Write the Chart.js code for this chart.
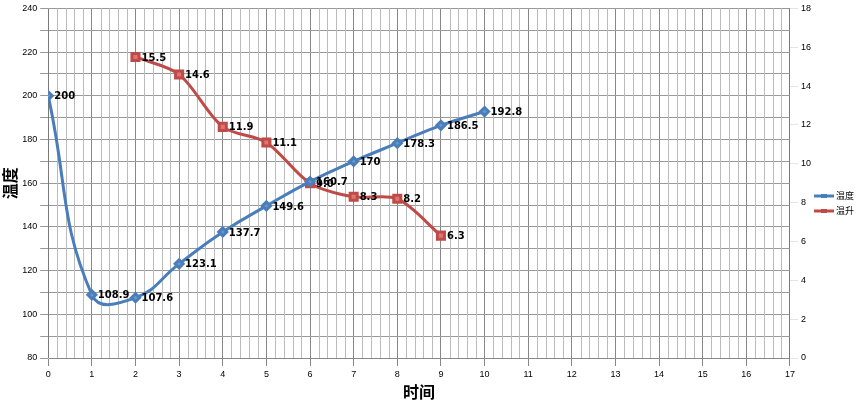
<!DOCTYPE html><html><head><meta charset="utf-8"><script src="https://cdn.jsdelivr.net/npm/chart.js@4"></script>
<style>body{margin:0;background:#fff}#w{width:858px;height:402px}</style></head><body><div id="w"><canvas id="c"></canvas></div>
<script>
const tempX=[0,1,2,3,4,5,6,7,8,9,10];
const tempY=[200,108.9,107.6,123.1,137.7,149.6,160.7,170,178.3,186.5,192.8];
const riseX=[2,3,4,5,6,7,8,9];
const riseY=[15.5,14.6,11.9,11.1,9,8.3,8.2,6.3];
const riseLabels=['15.5','14.6','11.9','11.1','9.0','8.3','8.2','6.3'];
const names=['温度','温升'];
const lbl={id:'lbl',afterDatasetsDraw(ch){const c=ch.ctx;c.save();c.font='bold 10px "DejaVu Sans"';c.fillStyle='#000';c.textBaseline='middle';
ch.data.datasets.forEach((d,i)=>{ch.getDatasetMeta(i).data.forEach((p,j)=>{const t=i===0?String(tempY[j]):riseLabels[j];c.fillText(t,p.x+6,p.y+1);});});
const cols=['#4a7ebb','#be4b48'];c.font='9px "Noto Sans CJK SC"';
names.forEach((n,i)=>{const y=196+i*15;c.strokeStyle=cols[i];c.lineWidth=3;c.beginPath();c.moveTo(814,y);c.lineTo(834,y);c.stroke();c.fillStyle=cols[i];c.fillRect(821,y-2,6,4);c.fillStyle='#000';c.fillText(n,836,y);});
c.restore();}};
new Chart(document.getElementById('c'),{type:'scatter',data:{datasets:[
{label:names[0],data:tempX.map((x,i)=>({x,y:tempY[i]})),showLine:true,tension:0.45,borderColor:'#4a7ebb',backgroundColor:'#6d95cc',borderWidth:3,pointStyle:'rectRot',pointRadius:4,yAxisID:'y'},
{label:names[1],data:riseX.map((x,i)=>({x,y:riseY[i]})),showLine:true,tension:0.3,borderColor:'#be4b48',backgroundColor:'#e07470',pointBorderColor:'#be4b48',borderWidth:3,pointStyle:'rect',pointRadius:5,yAxisID:'y1'}]},
options:{responsive:true,maintainAspectRatio:false,animation:false,layout:{padding:{left:0,right:44,top:0,bottom:0}},
plugins:{tooltip:{enabled:false},legend:{display:false}},
scales:{x:{type:'linear',min:0,max:17,ticks:{stepSize:1,font:{size:9},color:'#000'},grid:{color:c=>Number.isInteger(c.tick.value)?'#888':'#bbb'},
title:{display:true,text:'时间',font:{size:16,weight:'bold',family:'"Noto Sans CJK SC"'},color:'#000',padding:0}},
y:{min:80,max:240,ticks:{stepSize:10,font:{size:9},color:'#000',callback:v=>v%20===0?v:''},grid:{color:'#999'},
title:{display:true,text:'温度',font:{size:16,weight:'bold',family:'"Noto Sans CJK SC"'},color:'#000',padding:0}},
y1:{position:'right',min:0,max:18,ticks:{stepSize:2,font:{size:9},color:'#000'},grid:{drawOnChartArea:false}}}},
plugins:[lbl,{id:'minor',beforeDatasetsDraw(ch){const c=ch.ctx,a=ch.chartArea,xs=ch.scales.x;c.save();c.strokeStyle='#bbb';c.lineWidth=1;for(let v=0.2;v<17;v+=0.2){if(Math.abs(v-Math.round(v))<0.01)continue;const px=Math.round(xs.getPixelForValue(v))+0.5;c.beginPath();c.moveTo(px,a.top);c.lineTo(px,a.bottom);c.stroke();}c.restore();}}]});
</script></body></html>
